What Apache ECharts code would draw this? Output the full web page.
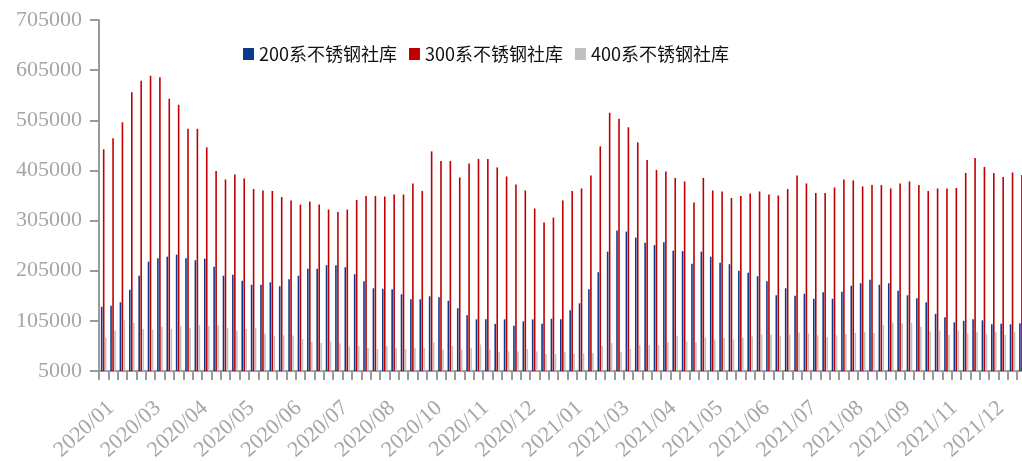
<!DOCTYPE html>
<html>
<head>
<meta charset="utf-8">
<script src="https://cdn.jsdelivr.net/npm/echarts@6/dist/echarts.min.js"></script>
<style>
html,body{margin:0;padding:0;background:#fff;}
#c{width:1022px;height:461px;}
</style>
</head>
<body>
<div id="c"></div>
<script>
const dates = [
'2020-01-02','2020-01-09','2020-01-16','2020-02-20','2020-02-27','2020-03-05','2020-03-12','2020-03-19','2020-03-26','2020-04-02',
'2020-04-09','2020-04-16','2020-04-23','2020-04-30','2020-05-07','2020-05-14','2020-05-21','2020-05-28','2020-06-04','2020-06-11',
'2020-06-18','2020-06-25','2020-07-02','2020-07-09','2020-07-16','2020-07-23','2020-07-30','2020-08-06','2020-08-13','2020-08-20',
'2020-08-27','2020-09-03','2020-09-10','2020-09-17','2020-09-24','2020-10-01','2020-10-08','2020-10-15','2020-10-22','2020-10-29',
'2020-11-05','2020-11-12','2020-11-19','2020-11-26','2020-12-03','2020-12-10','2020-12-17','2020-12-24','2020-12-31','2021-01-07',
'2021-01-14','2021-01-21','2021-01-28','2021-02-04','2021-02-25','2021-03-04','2021-03-11','2021-03-18','2021-03-25','2021-04-01',
'2021-04-08','2021-04-15','2021-04-22','2021-04-29','2021-05-06','2021-05-13','2021-05-20','2021-05-27','2021-06-03','2021-06-10',
'2021-06-17','2021-06-24','2021-07-01','2021-07-08','2021-07-15','2021-07-22','2021-07-29','2021-08-05','2021-08-12','2021-08-19',
'2021-08-26','2021-09-02','2021-09-09','2021-09-16','2021-09-23','2021-09-30','2021-10-07','2021-10-14','2021-10-21','2021-10-28',
'2021-11-04','2021-11-11','2021-11-18','2021-11-25','2021-12-02','2021-12-09','2021-12-16','2021-12-23','2021-12-30'
];

const s200 = [
133000,135000,142000,167000,195000,223000,230000,233000,237000,230000,
226000,229000,213000,195000,197000,185000,177000,177000,182000,174000,
188000,195000,209000,209000,216000,216000,212000,198000,184000,170000,
169000,168000,158000,148000,148000,154000,152000,145000,130000,116000,
108000,108000,99000,108000,95000,104000,108000,99000,109000,108000,
126000,140000,168000,202000,243000,285000,283000,271000,261000,256000,
262000,245000,244000,219000,243000,233000,221000,218000,205000,201000,
194000,184000,156000,170000,155000,159000,149000,162000,149000,163000,
175000,180000,187000,177000,180000,165000,156000,150000,142000,119000,
112000,102000,105000,108000,106000,98000,99000,98000,100000
];

const s300 = [
447000,469000,501000,561000,584000,594000,591000,548000,536000,488000,
488000,451000,404000,387000,397000,389000,368000,365000,364000,352000,
345000,337000,343000,337000,327000,322000,327000,346000,354000,354000,
353000,357000,357000,379000,364000,443000,424000,424000,391000,419000,
428000,428000,411000,393000,377000,365000,329000,301000,311000,345000,
364000,369000,395000,453000,520000,508000,491000,461000,426000,406000,
403000,390000,383000,341000,390000,365000,363000,350000,354000,359000,
363000,357000,355000,368000,395000,379000,360000,360000,371000,387000,
385000,373000,376000,376000,369000,379000,383000,376000,364000,369000,
369000,370000,400000,430000,412000,400000,392000,401000,396000
];

const s400 = [
72000,86000,106000,101000,89000,88000,93000,89000,95000,91000,
97000,95000,96000,91000,86000,89000,91000,80000,75000,76000,
76000,69000,63000,61000,64000,60000,54000,55000,51000,49000,
55000,51000,49000,51000,51000,62000,48000,55000,48000,51000,
58000,48000,43000,44000,44000,49000,44000,39000,39000,43000,
40000,40000,41000,55000,61000,43000,49000,57000,57000,57000,
62000,75000,64000,62000,72000,68000,71000,68000,72000,74000,
78000,78000,75000,78000,82000,80000,76000,73000,76000,79000,
81000,83000,81000,97000,102000,100000,101000,93000,84000,86000,
77000,86000,80000,83000,79000,83000,77000,83000,82000
];

const seriesNames = ['200系不锈钢社库','300系不锈钢社库','400系不锈钢社库'];
const yMin = 5000, yMax = 705000, yStep = 100000;

const chart = echarts.init(document.getElementById('c'), null, {renderer:'canvas'});
const axisGray = '#9a9a9a';
const labelGray = '#a6a6a6';
const serif = '"Liberation Serif","Times New Roman",serif';

const bar = (name, data, color) => ({
  name, type:'bar', data,
  barWidth: 1.6, barGap: '25%',
  itemStyle:{color},
  animation:false
});

chart.setOption({
  animation:false,
  backgroundColor:'#fff',
  grid:{left:99, right:-4.6, top:20, bottom:90, containLabel:false, outerBoundsMode:'none'},
  legend:{
    left:238, top:40,
    icon:'rect', itemWidth:11, itemHeight:12, itemGap:12,
    textStyle:{fontSize:18, color:'#111', fontFamily:'"Noto Sans CJK SC","Noto Sans",sans-serif'},
    data: seriesNames
  },
  xAxis:{
    type:'category', data:dates, boundaryGap:true,
    axisLine:{lineStyle:{color:axisGray, width:2}},
    axisTick:{show:true, interval:0, length:9, lineStyle:{color:axisGray, width:2}},
    axisLabel:{
      interval:4, rotate:42, margin:26, verticalAlign:'top',
      color:labelGray, fontSize:22, fontFamily:serif,
      formatter: v => v.slice(0,7).replace('-', '/')
    },
    splitLine:{show:false}
  },
  yAxis:{
    type:'value', min:yMin, max:yMax, interval:yStep,
    axisLine:{show:true, lineStyle:{color:axisGray, width:2}},
    axisTick:{show:true, length:9, lineStyle:{color:axisGray, width:2}},
    axisLabel:{color:labelGray, fontSize:22, fontFamily:serif, margin:17, formatter: v => String(v)},
    splitLine:{show:false}
  },
  series:[
    bar(seriesNames[0], s200, '#0c3b8d'),
    bar(seriesNames[1], s300, '#c00000'),
    bar(seriesNames[2], s400, '#c0c0c0')
  ]
});
</script>
</body>
</html>
